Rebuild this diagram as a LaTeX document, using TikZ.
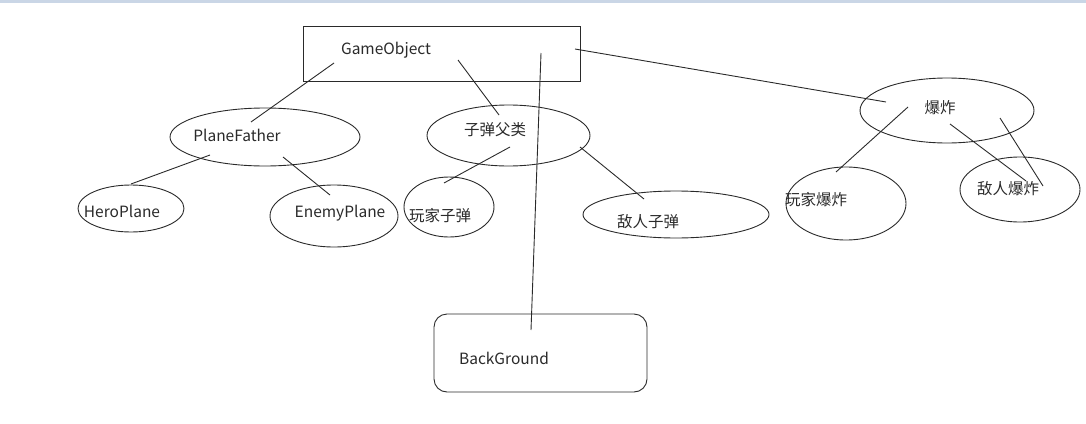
\documentclass[tikz,border=0pt]{standalone}
\usepackage{fontspec}
\setmainfont{Noto Sans CJK SC}
\usetikzlibrary{shapes.geometric}
\definecolor{band}{HTML}{CAD6E6}
\definecolor{ink}{HTML}{2A2A2A}
\tikzset{
  oval/.style={draw=ink, line width=0.9pt, ellipse, inner sep=0pt},
  lbl/.style={inner sep=0pt, font=\fontsize{15.5}{17}\selectfont, text=ink},
  wire/.style={draw=ink, line width=0.9pt},
}
\begin{document}
\begin{tikzpicture}[x=1pt,y=-1pt]
\useasboundingbox (0,0) rectangle (1086,423);
\fill[band] (0,0) rectangle (1086,3);

% boxes
\node[draw=ink, line width=0.9pt, minimum width=277pt, minimum height=55pt, inner sep=0pt] (go) at (441.5,53.5) {};
\node[draw=ink, line width=0.9pt, rounded corners=13pt, minimum width=213pt, minimum height=78pt, inner sep=0pt] (bg) at (540.5,353) {};

% ellipses
\node[oval, minimum width=190pt, minimum height=58pt] (pf) at (265,137) {};
\node[oval, minimum width=106pt, minimum height=47pt] (hp) at (131,208.5) {};
\node[oval, minimum width=128pt, minimum height=62pt] (ep) at (334,216) {};
\node[oval, minimum width=163pt, minimum height=61pt] (zd) at (508.5,135.5) {};
\node[oval, minimum width=90pt, minimum height=60pt] (wz) at (449,207) {};
\node[oval, minimum width=186pt, minimum height=47pt] (dz) at (676,214.5) {};
\node[oval, minimum width=174pt, minimum height=65pt] (bz) at (947,110.5) {};
\node[oval, minimum width=120pt, minimum height=73pt] (wb) at (846,203.5) {};
\node[oval, minimum width=120pt, minimum height=65pt] (db) at (1020,189.5) {};

% texts
\node[lbl] (tgo) at (386,50) {GameObject};
\node[lbl] (tbg) at (504,358) {BackGround};
\node[lbl] (tpf) at (237,135) {PlaneFather};
\node[lbl] (thp) at (122,211) {HeroPlane};
\node[lbl] (tep) at (340,213) {EnemyPlane};
\node[lbl] (tzd) at (495,130) {子弹父类};
\node[lbl] (twz) at (440,216) {玩家子弹};
\node[lbl] (tdz) at (648,222) {敌人子弹};
\node[lbl] (tbz) at (940,108) {爆炸};
\node[lbl] (twb) at (816,200) {玩家爆炸};
\node[lbl] (tdb) at (1008,189) {敌人爆炸};

% connector end points
\coordinate (c1a) at (334,63);  \coordinate (c1b) at (251,122);
\coordinate (c2a) at (210,155); \coordinate (c2b) at (131,184);
\coordinate (c3a) at (283,157); \coordinate (c3b) at (330,195);
\coordinate (c4a) at (458,60);  \coordinate (c4b) at (499,115);
\coordinate (c5a) at (510,147); \coordinate (c5b) at (444,183);
\coordinate (c6a) at (580,147); \coordinate (c6b) at (644,199);
\coordinate (c7a) at (541,53);  \coordinate (c7b) at (531,330);
\coordinate (c8a) at (575,49);  \coordinate (c8b) at (886,102);
\coordinate (c9a) at (908,107); \coordinate (c9b) at (836,172);
\coordinate (c10a) at (950,124); \coordinate (c10b) at (1026,181);
\coordinate (c11a) at (1000,118); \coordinate (c11b) at (1043,186);

% connectors
\draw[wire] (c1a) -- (c1b);
\draw[wire] (c2a) -- (c2b);
\draw[wire] (c3a) -- (c3b);
\draw[wire] (c4a) -- (c4b);
\draw[wire] (c5a) -- (c5b);
\draw[wire] (c6a) -- (c6b);
\draw[wire] (c7a) -- (c7b);
\draw[wire] (c8a) -- (c8b);
\draw[wire] (c9a) -- (c9b);
\draw[wire] (c10a) -- (c10b);
\draw[wire] (c11a) -- (c11b);
\end{tikzpicture}
\end{document}
